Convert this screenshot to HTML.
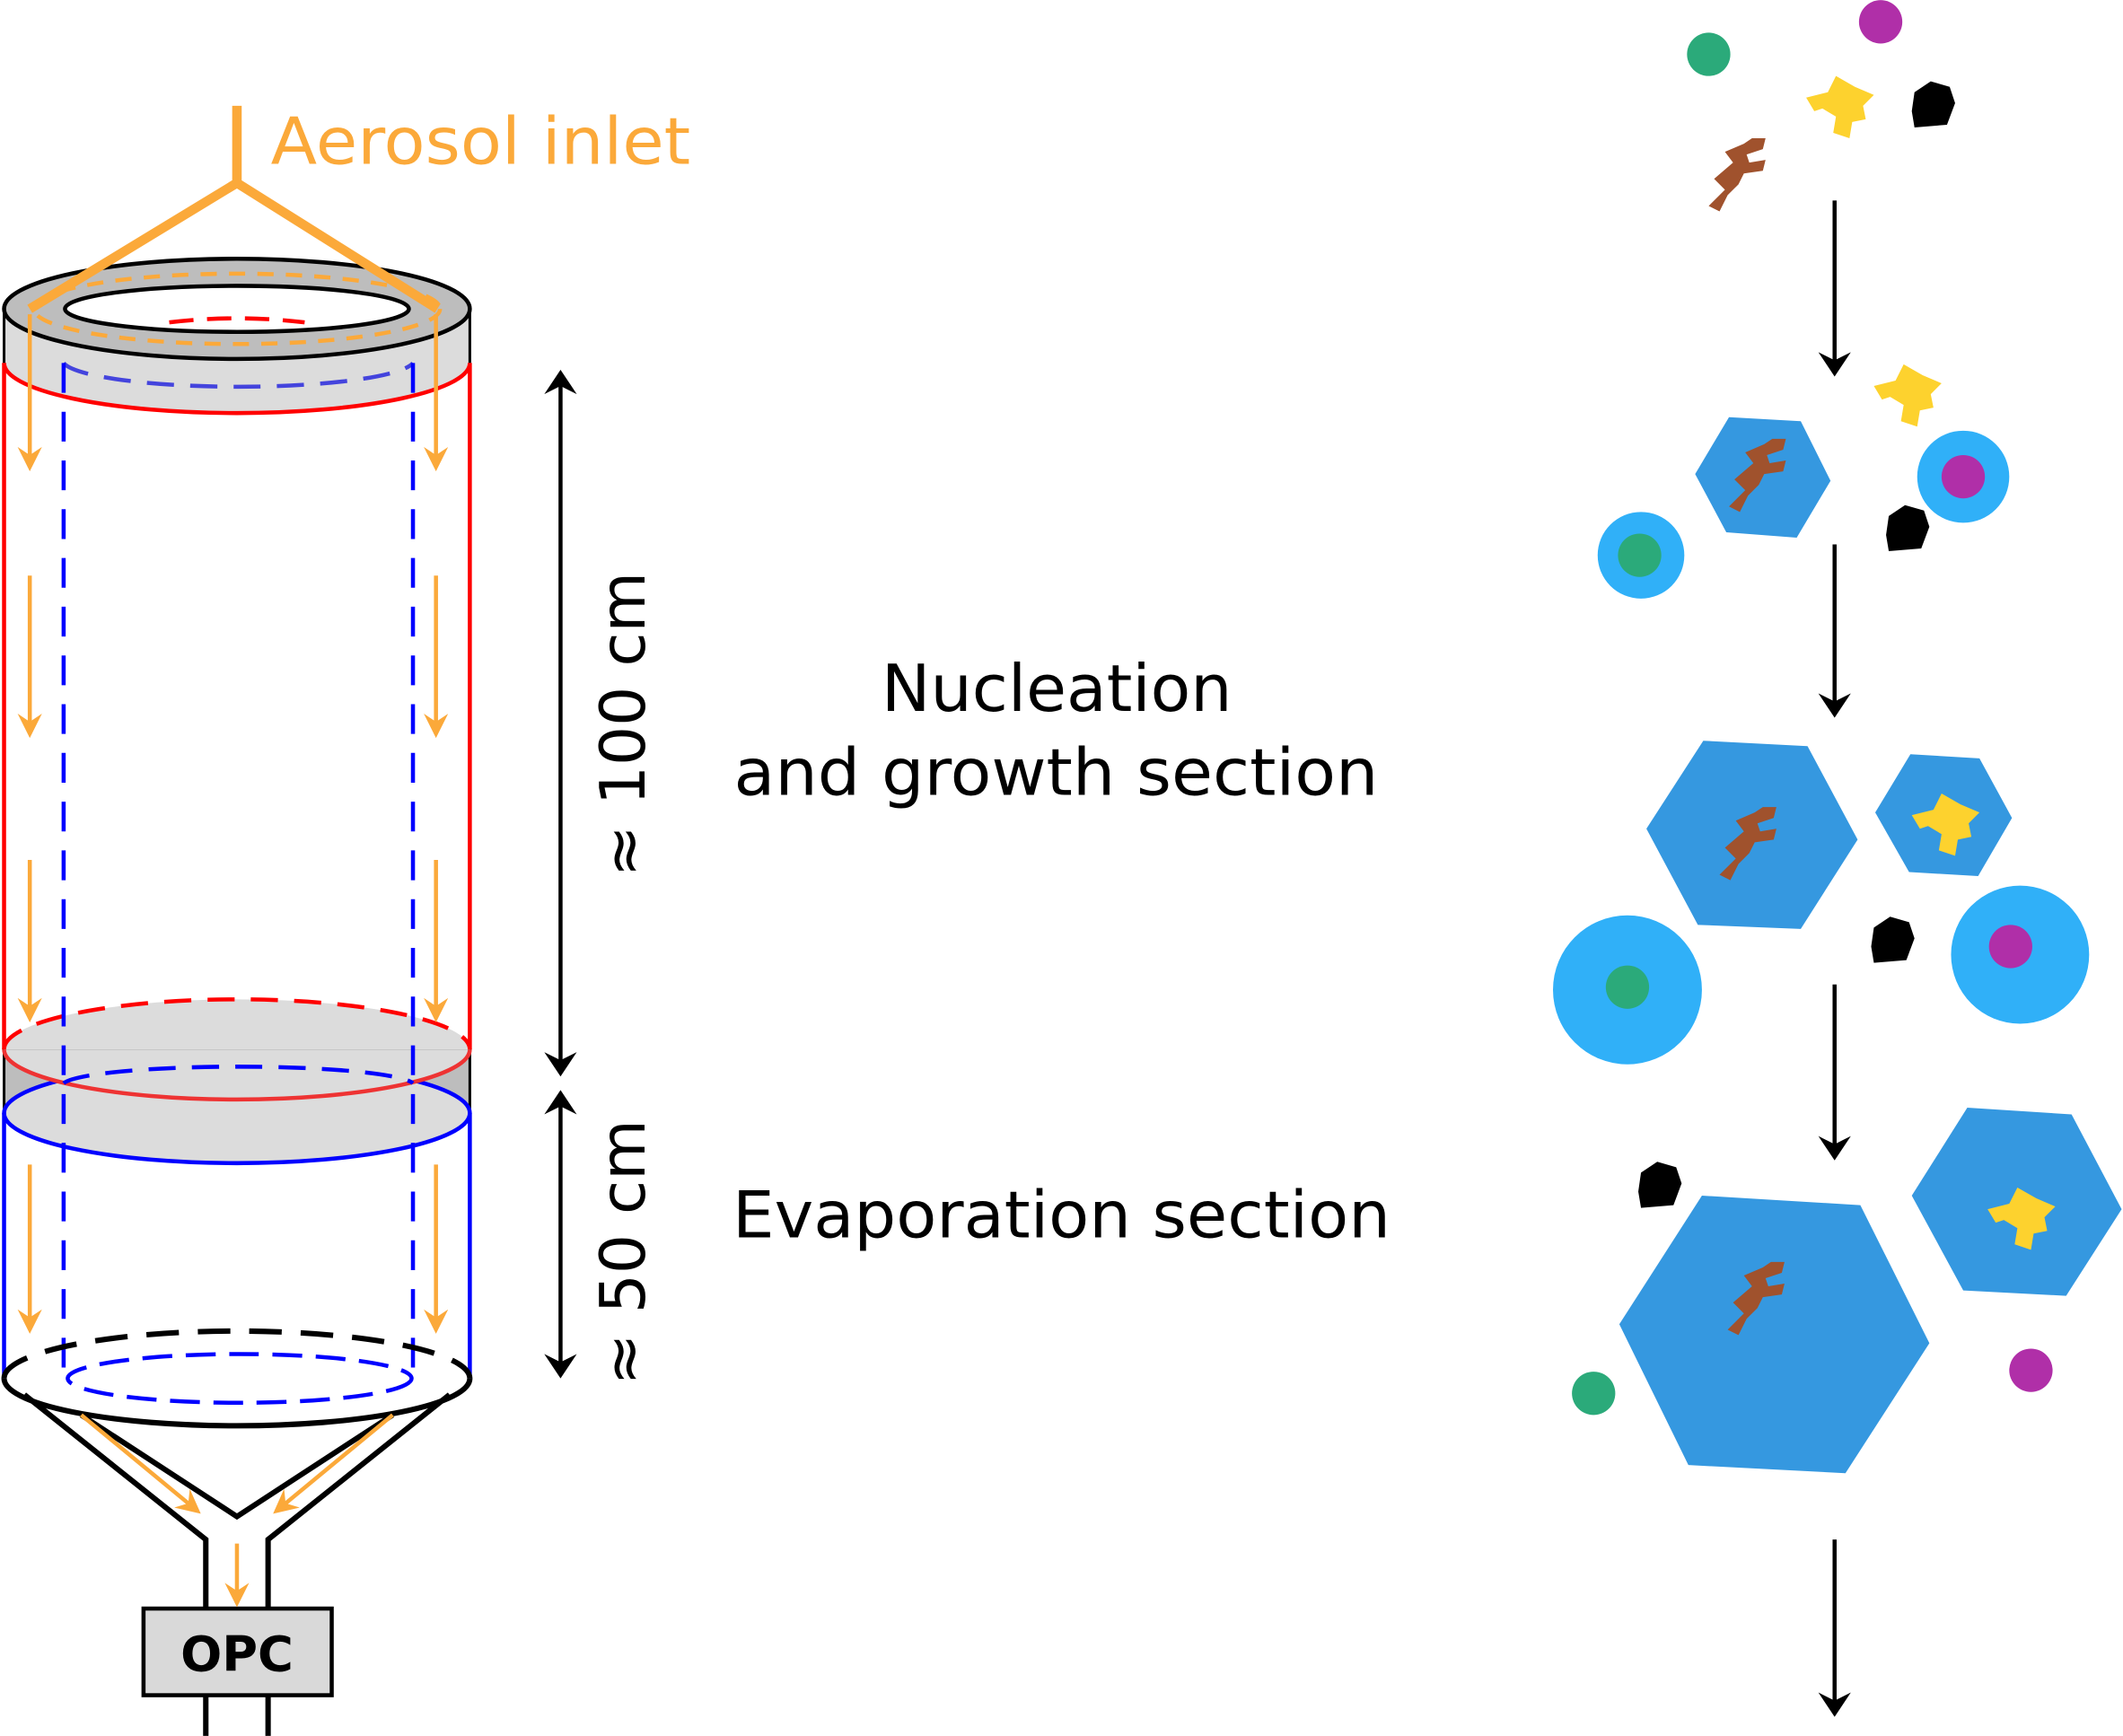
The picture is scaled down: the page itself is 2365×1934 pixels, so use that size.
<!DOCTYPE html>
<html><head><meta charset="utf-8"><style>html,body{margin:0;padding:0;background:#fff}svg{display:block}</style></head><body>
<svg width="2365" height="1934" viewBox="0 0 1568 1282" xmlns="http://www.w3.org/2000/svg" font-family="'DejaVu Sans','Liberation Sans',sans-serif">
<defs>
<marker id="oa" markerWidth="6" markerHeight="6" refX="5" refY="3" orient="auto" markerUnits="strokeWidth"><path d="M0,0 L6,3 L0,6 L2,3Z" fill="#FBA93A"/></marker>
<marker id="ka" markerWidth="6" markerHeight="8" refX="5" refY="4" orient="auto" markerUnits="strokeWidth"><path d="M0,0 L6,4 L0,8 L2,4Z" fill="#000"/></marker>
<marker id="ks" markerWidth="6" markerHeight="8" refX="1" refY="4" orient="auto" markerUnits="strokeWidth"><path d="M6,0 L0,4 L6,8 L4,4Z" fill="#000"/></marker>
<g id="yel"><path d="M-28,-10 L-12,-14 L-6,-26 L8,-18 L22,-12 L14,-4 L16,6 L6,8 L4,20 L-8,16 L-6,4 L-16,-2 L-22,0Z" fill="#FDD22E"/></g>
<g id="brn"><path d="M-20,26 L-8,14 L-16,6 L-2,-6 L-8,-14 L6,-20 L12,-24 L22,-24 L20,-16 L8,-12 L10,-6 L22,-8 L20,0 L6,2 L2,10 L-6,18 L-12,30Z" fill="#A0522D"/></g>
<g id="blk"><path d="M-14,-10 L-2,-18 L12,-14 L16,-2 L10,14 L-14,16 L-16,4Z" fill="#000"/></g>
</defs>
<!-- top band -->
<path d="M3,228 L3,268 A172,37 0 0 0 347,268 L347,228Z" fill="#dcdcdc"/>
<path d="M3,228 L3,268 M347,228 L347,268" stroke="#000" stroke-width="2"/>
<path d="M3,268 A172,37 0 0 0 347,268" fill="none" stroke="red" stroke-width="3"/>
<ellipse cx="175" cy="228" rx="172" ry="37" fill="#bdbdbd" stroke="#000" stroke-width="3"/>
<ellipse cx="175" cy="228" rx="127" ry="17" fill="#fff" stroke="#000" stroke-width="3"/>
<path d="M125,238 Q175,232 225,238" fill="none" stroke="red" stroke-width="3" stroke-dasharray="18,10"/>
<ellipse cx="175" cy="228" rx="150" ry="26" fill="none" stroke="#FBA93A" stroke-width="3" stroke-dasharray="12,9"/>
<path d="M3,268 L3,775 M347,268 L347,775" stroke="red" stroke-width="3"/>
<path d="M47,268 A130,20 0 0 0 305,268" fill="none" stroke="#44d" stroke-width="3" stroke-dasharray="20,12"/>
<!-- middle band -->
<path d="M3,775 L3,822 A172,37 0 0 0 347,822 L347,775Z" fill="#bdbdbd" stroke="#000" stroke-width="2"/>
<ellipse cx="175" cy="822" rx="172" ry="37" fill="#dcdcdc" stroke="blue" stroke-width="3"/>
<path d="M3,775 A172,37 0 0 0 347,775" fill="#dcdcdc" stroke="#e33" stroke-width="3"/>
<path d="M3,775 A172,37 0 0 1 347,775" fill="#dcdcdc" stroke="red" stroke-width="3" stroke-dasharray="20,12"/>
<path d="M47,800 A130,14 0 0 1 305,800" fill="none" stroke="blue" stroke-width="3" stroke-dasharray="20,12"/>
<path d="M3,822 L3,1018 M347,822 L347,1018" stroke="blue" stroke-width="3"/>
<path d="M47,268 L47,1018 M305,268 L305,1018" stroke="blue" stroke-width="3" stroke-dasharray="22,14"/>
<!-- bottom -->
<path d="M3,1018 A172,35 0 0 0 347,1018" fill="none" stroke="#000" stroke-width="4"/>
<path d="M3,1018 A172,35 0 0 1 347,1018" fill="none" stroke="#000" stroke-width="4" stroke-dasharray="24,14"/>
<ellipse cx="177" cy="1018" rx="127" ry="18" fill="none" stroke="blue" stroke-width="3" stroke-dasharray="22,10"/>
<path d="M18,1030 L152,1137 L152,1282 M332,1030 L198,1137 L198,1282 M60,1045 L175,1120 L290,1045" fill="none" stroke="#000" stroke-width="4"/>
<rect x="106" y="1188" width="139" height="64" fill="#d9d9d9" stroke="#000" stroke-width="3"/>
<text x="175" y="1234" text-anchor="middle" font-size="36" font-weight="bold">OPC</text>
<!-- orange -->
<path d="M175,78 L175,135 M22,228 L175,135 L323,228" fill="none" stroke="#FBA93A" stroke-width="7"/>
<text x="200" y="121" font-size="48" fill="#FBA93A" textLength="310" lengthAdjust="spacingAndGlyphs">Aerosol inlet</text>
<g stroke="#FBA93A" stroke-width="3">
<path d="M22,232 L22,345" marker-end="url(#oa)"/><path d="M322,232 L322,345" marker-end="url(#oa)"/>
<path d="M22,425 L22,542" marker-end="url(#oa)"/><path d="M322,425 L322,542" marker-end="url(#oa)"/>
<path d="M22,635 L22,752" marker-end="url(#oa)"/><path d="M322,635 L322,752" marker-end="url(#oa)"/>
<path d="M22,860 L22,982" marker-end="url(#oa)"/><path d="M322,860 L322,982" marker-end="url(#oa)"/>
<path d="M60,1045 L146,1116" marker-end="url(#oa)"/><path d="M290,1045 L204,1116" marker-end="url(#oa)"/>
<path d="M175,1140 L175,1184" marker-end="url(#oa)"/>
</g>
<!-- dims -->
<g stroke="#000" stroke-width="3">
<path d="M414,276 L414,792" marker-end="url(#ka)" marker-start="url(#ks)"/>
<path d="M414,808 L414,1015" marker-end="url(#ka)" marker-start="url(#ks)"/>
</g>
<text transform="translate(476,535) rotate(-90)" text-anchor="middle" font-size="46">≈ 100 cm</text>
<text transform="translate(476,925) rotate(-90)" text-anchor="middle" font-size="46">≈ 50 cm</text>
<text x="651" y="525" font-size="48" textLength="259" lengthAdjust="spacingAndGlyphs">Nucleation</text>
<text x="542" y="587" font-size="48" textLength="476" lengthAdjust="spacingAndGlyphs">and growth section</text>
<text x="541" y="914" font-size="48" textLength="486" lengthAdjust="spacingAndGlyphs">Evaporation section</text>
<!-- right arrows -->
<g stroke="#000" stroke-width="3">
<path d="M1355,148 L1355,275" marker-end="url(#ka)"/><path d="M1355,402 L1355,527" marker-end="url(#ka)"/>
<path d="M1355,727 L1355,854" marker-end="url(#ka)"/><path d="M1355,1137 L1355,1265" marker-end="url(#ka)"/>
</g>
<!-- row1 -->
<circle cx="1262" cy="40" r="16" fill="#2BAA7A"/>
<circle cx="1389" cy="16" r="16" fill="#B02FA8"/>
<use href="#yel" x="1362" y="82"/>
<use href="#blk" x="1428" y="78"/>
<use href="#brn" x="1282" y="126"/>
<!-- row2 -->
<polygon points="1352,355 1327,397 1275,393 1252,350 1277,308 1330,311" fill="#3598E0"/>
<use href="#brn" x="1297" y="348"/>
<use href="#yel" x="1412" y="295"/>
<circle cx="1450" cy="352" r="34" fill="#30B0F8"/><circle cx="1450" cy="352" r="16" fill="#B02FA8"/>
<circle cx="1212" cy="410" r="32" fill="#30B0F8"/><circle cx="1211" cy="410" r="16" fill="#2BAA7A"/>
<use href="#blk" x="1409" y="391"/>
<!-- row3 -->
<polygon points="1372,620 1330,686 1254,683 1216,612 1258,547 1335,551" fill="#3598E0"/>
<use href="#brn" x="1290" y="620"/>
<polygon points="1486,604 1461,647 1410,644 1385,600 1411,557 1462,560" fill="#3598E0"/>
<use href="#yel" x="1440" y="612"/>
<circle cx="1202" cy="731" r="55" fill="#30B0F8"/><circle cx="1202" cy="729" r="16" fill="#2BAA7A"/>
<circle cx="1492" cy="705" r="51" fill="#30B0F8"/><circle cx="1485" cy="699" r="16" fill="#B02FA8"/>
<use href="#blk" x="1398" y="695"/>
<!-- row4 -->
<polygon points="1425,992 1363,1088 1247,1082 1196,978 1257,883 1374,890" fill="#3598E0"/>
<use href="#brn" x="1296" y="956"/>
<polygon points="1567,893 1526,957 1450,953 1412,883 1453,818 1530,823" fill="#3598E0"/>
<use href="#yel" x="1496" y="903"/>
<use href="#blk" x="1226" y="876"/>
<circle cx="1177" cy="1029" r="16" fill="#2BAA7A"/>
<circle cx="1500" cy="1012" r="16" fill="#B02FA8"/>
</svg>
</body></html>
